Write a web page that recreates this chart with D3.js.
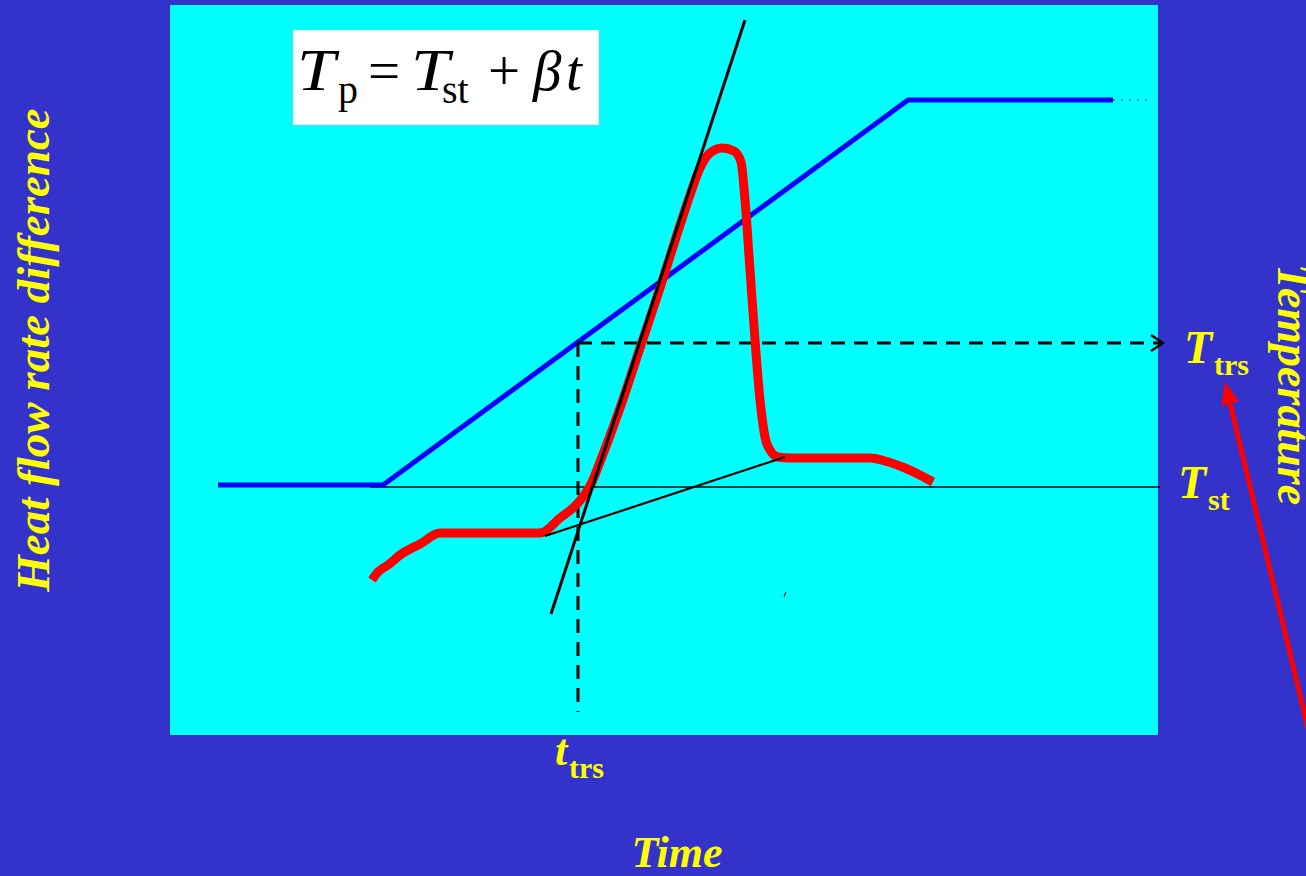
<!DOCTYPE html>
<html>
<head>
<meta charset="utf-8">
<script src="https://cdn.jsdelivr.net/npm/d3@7"></script>
<style>
  html, body { margin: 0; padding: 0; background: #3333CC; overflow: hidden; }
  svg { display: block; }
  text { font-family: "Liberation Serif", "Times New Roman", serif; }
</style>
</head>
<body>
<svg id="chart" width="1306" height="876"></svg>
<script>
// ---- Data (time and signal in arbitrary units) ----
// Programmed temperature: isothermal start, linear ramp, isothermal hold
const tempTime   = [48, 213, 738, 943];
const tempValue  = [250, 250, 635, 635];

// Heat flow rate difference (DSC signal) with a transition peak
const dscTime  = [202, 208, 218, 230, 250, 270, 370, 390, 408, 415, 422, 430, 450, 470, 490, 510, 520, 530, 540, 552, 564, 571, 575, 580, 585, 590, 595, 600, 608, 620, 700, 715, 735, 763];
const dscValue = [155, 163, 170, 180, 191, 202, 202, 217, 232, 241, 253, 273, 327, 387, 447, 510, 540, 567, 582, 587, 584, 573, 535, 465, 395, 335, 298, 285, 278, 277, 277, 274, 267, 253];

// Construction lines
const baseTime   = [200, 990];            // start temperature baseline
const baseValue  = [248, 248];
const steepTime  = [381, 575];            // inflectional tangent
const steepValue = [121, 715];
const interTime  = [375, 615];            // interpolated baseline
const interValue = [199, 278];
const trsTime    = 408;                   // transition time
const trsTemp    = 392;                   // transition temperature
const dashEnd    = 990;
const dashBottom = 23;
const holdDotsTime = [943, 978];

// ---- Layout ----
const svg = d3.select("#chart");
const panel = { x: 170, y: 5, w: 988, h: 730 };

const x = d3.scaleLinear().domain([0, 988]).range([panel.x, panel.x + panel.w]);
const y = d3.scaleLinear().domain([0, 730]).range([panel.y + panel.h, panel.y]);

const line = d3.line().x(d => x(d[0])).y(d => y(d[1]));
const zip = (a, b) => a.map((v, i) => [v, b[i]]);

svg.append("rect")
  .attr("x", panel.x).attr("y", panel.y)
  .attr("width", panel.w).attr("height", panel.h)
  .attr("fill", "#00FFFF");

// Formula box: T_p = T_st + βt
svg.append("rect").attr("x", 293).attr("y", 30).attr("width", 306).attr("height", 95).attr("fill", "#ffffff");
const fg = svg.append("g").attr("fill", "#000");
function ft(px, py, s, size, italic, sx) {
  fg.append("text")
    .attr("transform", `translate(${px},${py}) scale(${sx || 1},1)`)
    .attr("font-size", size).attr("font-style", italic ? "italic" : "normal").text(s);
}
ft(297, 90, "T", 60, true, 1.15);
ft(338, 103, "p", 40, false);
ft(368, 90, "=", 57, false);
ft(411, 90, "T", 60, true, 1.15);
ft(442, 103, "st", 40, false);
ft(488, 90, "+", 57, false);
ft(533, 90, "β", 57, true);
ft(566, 90, "t", 57, true);

// Baseline at start temperature
svg.append("path").datum(zip(baseTime, baseValue)).attr("d", line)
  .attr("stroke", "#000").attr("stroke-width", 1.6).attr("fill", "none");

// Temperature program
svg.append("path").datum(zip(tempTime, tempValue)).attr("d", line)
  .attr("stroke", "#0000FF").attr("stroke-width", 5).attr("fill", "none");
svg.append("path").datum(zip(holdDotsTime, [635, 635])).attr("d", line)
  .attr("stroke", "#107878").attr("stroke-width", 1.5).attr("stroke-dasharray", "2 6").attr("fill", "none");

// Dashed guides to transition temperature and time
svg.append("path").datum([[trsTime, trsTemp], [dashEnd, trsTemp]]).attr("d", line)
  .attr("stroke", "#000").attr("stroke-width", 3).attr("stroke-dasharray", "14 9").attr("fill", "none");
svg.append("path").datum([[trsTime, trsTemp], [trsTime, dashBottom]]).attr("d", line)
  .attr("stroke", "#000").attr("stroke-width", 3).attr("stroke-dasharray", "14 9").attr("fill", "none");
const ax = x(dashEnd) + 3, ay = y(trsTemp);
svg.append("path").attr("d", `M${ax - 12},${ay - 8} L${ax},${ay} L${ax - 12},${ay + 8}`)
  .attr("stroke", "#000").attr("stroke-width", 2.5).attr("fill", "none");

// DSC curve
const dscLine = d3.line().x(d => x(d[0])).y(d => y(d[1])).curve(d3.curveMonotoneX);
svg.append("path").datum(zip(dscTime, dscValue))
  .attr("d", dscLine)
  .attr("stroke", "#FF0000").attr("stroke-width", 9).attr("stroke-linejoin", "round").attr("fill", "none");

// Tangent construction
svg.append("path").datum(zip(steepTime, steepValue)).attr("d", line)
  .attr("stroke", "#000").attr("stroke-width", 3).attr("fill", "none");
svg.append("path").datum(zip(interTime, interValue)).attr("d", line)
  .attr("stroke", "#000").attr("stroke-width", 2.2).attr("fill", "none");
svg.append("path").datum([[614, 138], [616, 143]]).attr("d", line)
  .attr("stroke", "#000").attr("stroke-width", 1).attr("fill", "none");

// Labels
const yellow = "#FFFF00";
function subLabel(px, py, main, sub, mainSize, subSize, dx, dy) {
  const t = svg.append("text").attr("x", px).attr("y", py).attr("fill", yellow).attr("font-weight", "bold");
  t.append("tspan").attr("font-style", "italic").attr("font-size", mainSize).text(main);
  t.append("tspan").attr("x", px + dx).attr("y", py + dy).attr("font-size", subSize).text(sub);
}
subLabel(1184, 363, "T", "trs", 46, 30, 30, 12);
subLabel(1178, 498, "T", "st", 46, 30, 30, 12);
subLabel(555, 765, "t", "trs", 44, 30, 14, 13);

svg.append("text").attr("x", 677).attr("y", 867).attr("text-anchor", "middle")
  .attr("font-size", 44).attr("font-weight", "bold").attr("font-style", "italic")
  .attr("fill", yellow).text("Time");

svg.append("text").attr("transform", "translate(49,350) rotate(-90)").attr("text-anchor", "middle")
  .attr("font-size", 47).attr("font-weight", "bold").attr("font-style", "italic")
  .attr("fill", yellow).text("Heat flow rate difference");

svg.append("text").attr("transform", "translate(1278,264) rotate(90)")
  .attr("font-size", 46).attr("font-weight", "bold").attr("font-style", "italic")
  .attr("fill", yellow).text("Temperature");

// Red pointer arrow toward the transition temperature
const tip = [1225, 382], tail = [1312, 745];
const ang = Math.atan2(tail[1] - tip[1], tail[0] - tip[0]);
const headLen = 22, headW = 9;
const bx = tip[0] + headLen * Math.cos(ang), by = tip[1] + headLen * Math.sin(ang);
svg.append("line").attr("x1", bx).attr("y1", by).attr("x2", tail[0]).attr("y2", tail[1])
  .attr("stroke", "#FF0000").attr("stroke-width", 5);
svg.append("path")
  .attr("d", `M${tip[0]},${tip[1]} L${bx + headW * Math.sin(ang)},${by - headW * Math.cos(ang)} L${bx - headW * Math.sin(ang)},${by + headW * Math.cos(ang)} Z`)
  .attr("fill", "#FF0000");
</script>
</body>
</html>
